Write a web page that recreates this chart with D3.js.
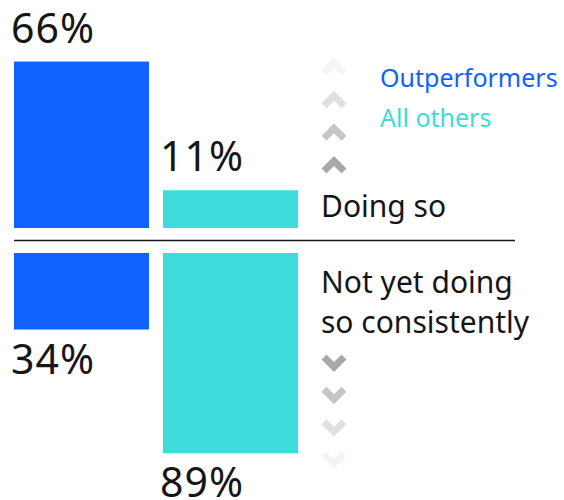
<!DOCTYPE html>
<html>
<head>
<meta charset="utf-8">
<script src="https://cdn.jsdelivr.net/npm/d3@7"></script>
<style>
  html, body { margin: 0; padding: 0; background: #fff; }
  svg { display: block; font-family: "Noto Sans", sans-serif; }
</style>
</head>
<body>
<div id="chart"></div>
<script>
// data
const series = ["Outperformers", "All others"];
const categories = ["Doing so", "Not yet doing so consistently"];
const doingSo = [66, 11];
const notYet = [34, 89];
const colors = ["#0f62fe", "#3ddbd9"];
const upShades = ["#f4f4f4", "#e0e0e0", "#c6c6c6", "#a8a8a8"];
const downShades = ["#a8a8a8", "#c6c6c6", "#e0e0e0", "#f4f4f4"];

const width = 564, height = 500;

const svg = d3.select("#chart").append("svg")
    .attr("width", width)
    .attr("height", height);

const x = d3.scaleBand()
    .domain(series)
    .range([14, 298])
    .paddingInner(0.094);

const color = d3.scaleOrdinal().domain(series).range(colors);

// top panel grows up from 228, bottom panel grows down from 253
const topBase = 228, bottomBase = 253;
const hTop = d3.scaleLinear().domain([0, 100]).range([12, 246]);
const hBottom = d3.scaleLinear().domain([0, 100]).range([0, 225]);

const topData = series.map((s, i) => ({ s, v: doingSo[i] }));
const bottomData = series.map((s, i) => ({ s, v: notYet[i] }));

// top bars
svg.append("g").selectAll("rect")
    .data(topData)
    .join("rect")
    .attr("x", d => x(d.s))
    .attr("y", d => topBase - hTop(d.v))
    .attr("width", x.bandwidth())
    .attr("height", d => hTop(d.v))
    .attr("fill", d => color(d.s));

svg.append("g").selectAll("text")
    .data(topData)
    .join("text")
    .attr("x", d => x(d.s) - 3)
    .attr("y", d => topBase - hTop(d.v) - 19)
    .attr("font-size", 41)
    .attr("letter-spacing", 1)
    .attr("fill", "#161616")
    .text(d => d.v + "%");

// bottom bars
svg.append("g").selectAll("rect")
    .data(bottomData)
    .join("rect")
    .attr("x", d => x(d.s))
    .attr("y", bottomBase)
    .attr("width", x.bandwidth())
    .attr("height", d => hBottom(d.v))
    .attr("fill", d => color(d.s));

svg.append("g").selectAll("text")
    .data(bottomData)
    .join("text")
    .attr("x", d => x(d.s) - 3)
    .attr("y", d => bottomBase + hBottom(d.v) + 44)
    .attr("font-size", 41)
    .attr("letter-spacing", 1)
    .attr("fill", "#161616")
    .text(d => d.v + "%");

// separator
svg.append("line")
    .attr("x1", 14).attr("x2", 515)
    .attr("y1", 240.5).attr("y2", 240.5)
    .attr("stroke", "#161616")
    .attr("stroke-width", 1.5);

// chevrons
const chevX = 334;
const upY = d3.scalePoint().domain(d3.range(4)).range([68, 166]);
const downY = d3.scalePoint().domain(d3.range(4)).range([362, 459]);

svg.append("g").selectAll("path")
    .data(upShades)
    .join("path")
    .attr("d", (d, i) => `M${chevX - 10},${upY(i) + 5}L${chevX},${upY(i) - 5}L${chevX + 10},${upY(i) + 5}`)
    .attr("fill", "none")
    .attr("stroke", d => d)
    .attr("stroke-width", 7);

svg.append("g").selectAll("path")
    .data(downShades)
    .join("path")
    .attr("d", (d, i) => `M${chevX - 10},${downY(i) - 5}L${chevX},${downY(i) + 5}L${chevX + 10},${downY(i) - 5}`)
    .attr("fill", "none")
    .attr("stroke", d => d)
    .attr("stroke-width", 7);

// category labels
svg.append("text")
    .attr("x", 321).attr("y", 217)
    .attr("font-size", 30)
    .attr("fill", "#161616")
    .text(categories[0]);

svg.append("text")
    .attr("x", 321).attr("y", 293)
    .attr("font-size", 30)
    .attr("fill", "#161616")
    .selectAll("tspan")
    .data(["Not yet doing", "so consistently"])
    .join("tspan")
    .attr("x", 321)
    .attr("dy", (d, i) => i ? 40 : 0)
    .text(d => d);

// legend
svg.append("g").selectAll("text")
    .data(series)
    .join("text")
    .attr("x", 380)
    .attr("y", (d, i) => 87 + i * 40)
    .attr("font-size", 25)
    .attr("fill", d => color(d))
    .text(d => d);
</script>
</body>
</html>
